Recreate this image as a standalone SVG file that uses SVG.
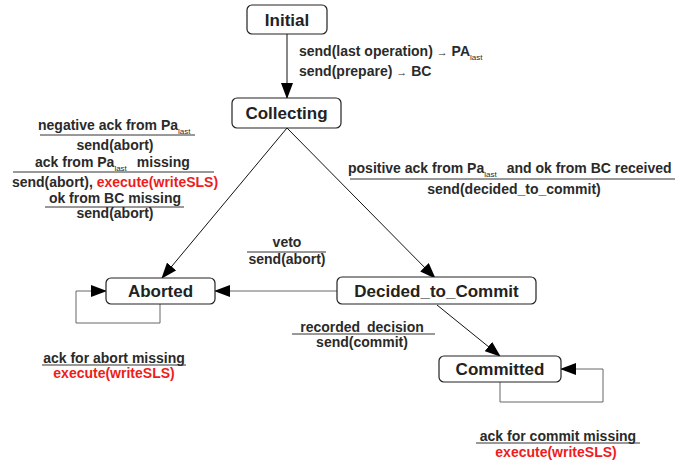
<svg xmlns="http://www.w3.org/2000/svg" width="676" height="466" viewBox="0 0 676 466">
  <style>
    .node rect { fill: #ffffff; stroke: #222222; stroke-width: 1.2; }
    .node text { font-family: "Liberation Sans", Arial, sans-serif; font-weight: bold; font-size: 17px; fill: #222222; text-anchor: middle; }
    .lbl { font-family: "Liberation Sans", Arial, sans-serif; font-weight: bold; font-size: 14px; fill: #2a2a2a; }
    .c { text-anchor: middle; }
    .red { fill: #ee1c1c; }
    .sub { font-size: 8px; font-weight: normal; }
    .arr { font-weight: normal; font-size: 11px; }
    .bar { stroke: #333333; stroke-width: 1; fill: none; }
    .edge { stroke: #111111; stroke-width: 1; fill: none; marker-end: url(#head); }
    .edge.grey { stroke: #666666; }
  </style>
  <defs>
    <marker id="head" markerWidth="16" markerHeight="12" refX="15" refY="6" orient="auto" markerUnits="userSpaceOnUse">
      <path d="M0,0 L16,6 L0,12 Z" fill="#000000"/>
    </marker>
  </defs>

  <g id="connectors">
    <line class="edge" x1="287" y1="34" x2="287" y2="98"/>
    <line class="edge" x1="287" y1="128" x2="162" y2="278"/>
    <line class="edge" x1="287" y1="128" x2="435" y2="278"/>
    <line class="edge grey" x1="337" y1="291" x2="215" y2="291"/>
    <line class="edge" x1="437" y1="305" x2="500" y2="356"/>
    <polyline class="edge grey" points="160,304 160,323 76,323 76,291 106,291"/>
    <polyline class="edge grey" points="500,382 500,402 603,402 603,369 561,369"/>
  </g>

  <g id="initial" class="node">
    <rect x="247" y="5" width="80" height="29" rx="5"/>
    <text x="287" y="26">Initial</text>
  </g>
  <g id="collecting" class="node">
    <rect x="232" y="98" width="109" height="30" rx="5"/>
    <text x="286.5" y="119">Collecting</text>
  </g>
  <g id="aborted" class="node">
    <rect x="106" y="278" width="109" height="26" rx="5"/>
    <text x="160.5" y="297">Aborted</text>
  </g>
  <g id="decided_to_commit" class="node">
    <rect x="337" y="277" width="199" height="27" rx="5"/>
    <text x="436.5" y="297">Decided_to_Commit</text>
  </g>
  <g id="committed" class="node">
    <rect x="439" y="356" width="122" height="26" rx="5"/>
    <text x="500" y="375">Committed</text>
  </g>

  <g id="labels">
    <!-- Initial -> Collecting -->
    <text class="lbl" x="299" y="56">send(last operation) <tspan class="arr">→</tspan> PA<tspan class="sub" dy="4">last</tspan></text>
    <text class="lbl" x="299" y="76">send(prepare) <tspan class="arr">→</tspan> BC</text>

    <!-- Collecting -> Aborted -->
    <text class="lbl" x="38" y="130">negative ack from Pa<tspan class="sub" dy="4">last</tspan></text>
    <line class="bar" x1="40" y1="135" x2="195" y2="135"/>
    <text class="lbl c" x="115" y="150">send(abort)</text>
    <text class="lbl" x="35" y="167">ack from Pa<tspan class="sub" dy="4">last</tspan><tspan dy="-4" dx="10">missing</tspan></text>
    <line class="bar" x1="13" y1="172" x2="214" y2="172"/>
    <text class="lbl c" x="115" y="187">send(abort), <tspan class="red">execute(writeSLS)</tspan></text>
    <text class="lbl c" x="115" y="203">ok from BC missing</text>
    <line class="bar" x1="45" y1="207" x2="184" y2="207"/>
    <text class="lbl c" x="115" y="218">send(abort)</text>

    <!-- Collecting -> Decided_to_Commit -->
    <text class="lbl" x="348" y="173">positive ack from Pa<tspan class="sub" dy="4">last</tspan><tspan dy="-4" dx="10">and ok from BC received</tspan></text>
    <line class="bar" x1="350" y1="179" x2="675" y2="179"/>
    <text class="lbl c" x="514" y="194">send(decided_to_commit)</text>

    <!-- Decided_to_Commit -> Aborted -->
    <text class="lbl c" x="287" y="247">veto</text>
    <line class="bar" x1="247" y1="252" x2="326" y2="252"/>
    <text class="lbl c" x="287" y="264">send(abort)</text>

    <!-- Decided_to_Commit -> Committed -->
    <text class="lbl c" x="362" y="332" word-spacing="3">recorded decision</text>
    <line class="bar" x1="292" y1="334" x2="435" y2="334"/>
    <text class="lbl c" x="362" y="347">send(commit)</text>

    <!-- Aborted self-loop -->
    <text class="lbl c" x="114" y="363">ack for abort missing</text>
    <line class="bar" x1="42" y1="365" x2="186" y2="365"/>
    <text class="lbl c red" x="114" y="378">execute(writeSLS)</text>

    <!-- Committed self-loop -->
    <text class="lbl c" x="558" y="441">ack for commit missing</text>
    <line class="bar" x1="476" y1="443" x2="640" y2="443"/>
    <text class="lbl c red" x="556" y="457">execute(writeSLS)</text>
  </g>
</svg>
